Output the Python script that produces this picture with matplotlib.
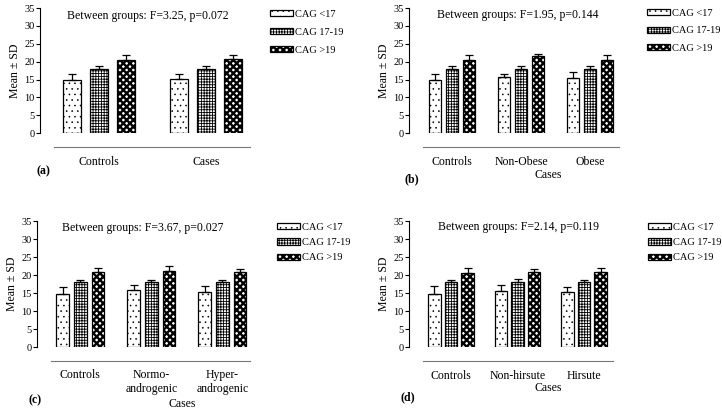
import matplotlib
matplotlib.use("Agg")
import matplotlib.pyplot as plt
import numpy as np

plt.rcParams['font.family'] = ['Liberation Serif', 'DejaVu Serif']
plt.rcParams['hatch.color'] = 'black'

series_labels = ['CAG <17', 'CAG 17-19', 'CAG >19']

# panel (a)
groups_a = ['Controls', 'Cases']
lt17_a = [14.8, 15.3]
lt17_sd_a = [1.9, 1.3]
mid_a = [18.0, 18.0]
mid_sd_a = [0.7, 0.7]
gt19_a = [20.6, 20.8]
gt19_sd_a = [1.3, 1.2]
stats_a = 'Between groups: F=3.25, p=0.072'

# panel (b)
groups_b = ['Controls', 'Non-Obese', 'Obese']
lt17_b = [14.8, 15.6, 15.4]
lt17_sd_b = [1.9, 1.1, 1.6]
mid_b = [18.0, 18.0, 18.0]
mid_sd_b = [0.7, 0.7, 0.7]
gt19_b = [20.6, 21.5, 20.6]
gt19_sd_b = [1.4, 0.6, 1.4]
stats_b = 'Between groups: F=1.95, p=0.144'

# panel (c)
groups_c = ['Controls', 'Normo-\nandrogenic', 'Hyper-\nandrogenic']
lt17_c = [14.8, 15.9, 15.3]
lt17_sd_c = [2.0, 1.2, 1.6]
mid_c = [18.0, 18.0, 18.0]
mid_sd_c = [0.7, 0.7, 0.7]
gt19_c = [20.8, 21.2, 20.8]
gt19_sd_c = [1.2, 1.2, 1.0]
stats_c = 'Between groups: F=3.67, p=0.027'

# panel (d)
groups_d = ['Controls', 'Non-hirsute', 'Hirsute']
lt17_d = [14.8, 15.6, 15.2]
lt17_sd_d = [2.2, 1.6, 1.5]
mid_d = [18.0, 18.2, 18.0]
mid_sd_d = [0.7, 0.7, 0.7]
gt19_d = [20.7, 20.8, 21.0]
gt19_sd_d = [1.2, 0.9, 1.1]
stats_d = 'Between groups: F=2.14, p=0.119'

hatches = ['...', '++++++', 'xxxxx']
hatch_lw = [0.4, 0.6, 1.7]

W, H = 722, 411
fig = plt.figure(figsize=(W / 100, H / 100), dpi=100)


def set_hatch_lw(patch, lw):
    if hasattr(patch, 'set_hatch_linewidth'):
        patch.set_hatch_linewidth(lw)


def panel(x_axis, x_end, y0, y35, centers_px, spacing, width, groups, vals, sds,
          stats, stats_y, stats_x, leg_x, leg_y, leg_space, letter, letter_xy, cases_xy):
    # axes placed in pixel coords of the figure
    ax = fig.add_axes([x_axis / W, (H - y0) / H, (x_end - x_axis) / W, (y0 - y35) / H])
    n = len(groups)
    x = np.arange(n)
    c0 = centers_px
    ax.set_xlim((x_axis - c0) / spacing, (x_end - c0) / spacing)
    ax.set_ylim(0, 35)
    offs = [-0.25, 0, 0.25]
    handles = []
    for k in range(3):
        with plt.rc_context({'hatch.linewidth': hatch_lw[k]}):
            b = ax.bar(x + offs[k], vals[k], width, color='white', edgecolor='black',
                       linewidth=0.9, hatch=hatches[k], label=series_labels[k], zorder=2)
        for p in b:
            set_hatch_lw(p, hatch_lw[k])
        ax.errorbar(x + offs[k], vals[k], yerr=[np.zeros(n), sds[k]], fmt='none',
                    ecolor='black', elinewidth=0.9, capsize=3, capthick=0.9, zorder=3)
        handles.append(b)
    ax.set_yticks(range(0, 36, 5))
    ax.tick_params(axis='y', labelsize=7.5, length=3, width=0.8, pad=1)
    ax.set_xticks(x)
    ax.set_xticklabels(groups, linespacing=1.0)
    ax.tick_params(axis='x', length=0, pad=6, labelsize=8.5)
    ax.spines['top'].set_visible(False)
    ax.spines['right'].set_visible(False)
    ax.spines['left'].set_linewidth(0.8)
    ax.spines['bottom'].set_position(('outward', 10))
    ax.spines['bottom'].set_color('#777777')
    ax.spines['bottom'].set_bounds((x_axis + 14 - c0) / spacing, (x_end - c0) / spacing)
    ax.set_ylabel('Mean ± SD', fontsize=8.5, labelpad=2)
    fig.text(stats_x / W, 1 - stats_y / H, stats, fontsize=8.5, ha='center', va='center')
    with plt.rc_context({'hatch.linewidth': 1.0}):
        leg = ax.legend(handles=handles, loc='upper left',
                        bbox_to_anchor=(leg_x / W, 1 - leg_y / H),
                        bbox_transform=fig.transFigure, frameon=False, fontsize=7.5,
                        handlelength=2.2, handleheight=0.55, handletextpad=0.2,
                        labelspacing=leg_space, borderpad=0, borderaxespad=0)
    for k, p in enumerate(leg.get_patches()):
        set_hatch_lw(p, hatch_lw[k])
    fig.text(letter_xy[0] / W, 1 - letter_xy[1] / H, letter, fontsize=8.5,
             fontweight='bold', ha='center', va='center')
    if cases_xy is not None:
        fig.text(cases_xy[0] / W, 1 - cases_xy[1] / H, 'Cases', fontsize=8.5,
                 ha='center', va='center')
    return ax


panel(40, 250, 133.3, 8, 99, 107, 0.168, groups_a,
      [lt17_a, mid_a, gt19_a], [lt17_sd_a, mid_sd_a, gt19_sd_a],
      stats_a, 16, 148, 270, 10, 0.85, '(a)', (43, 171), None)

panel(409, 619, 133.3, 8, 452, 69, 0.18, groups_b,
      [lt17_b, mid_b, gt19_b], [lt17_sd_b, mid_sd_b, gt19_sd_b],
      stats_b, 15, 518, 647, 9, 0.8, '(b)', (412, 179), (548, 175))

panel(37, 250, 347, 221, 80.3, 71, 0.178, groups_c,
      [lt17_c, mid_c, gt19_c], [lt17_sd_c, mid_sd_c, gt19_sd_c],
      stats_c, 228, 143, 277, 223, 0.6, '(c)', (35, 400), (182, 404))

panel(409, 613, 347.3, 221, 451, 66.5, 0.185, groups_d,
      [lt17_d, mid_d, gt19_d], [lt17_sd_d, mid_sd_d, gt19_sd_d],
      stats_d, 227, 519, 648, 223, 0.6, '(d)', (408, 397), (548, 388))

fig.savefig('out.png', dpi=100)
